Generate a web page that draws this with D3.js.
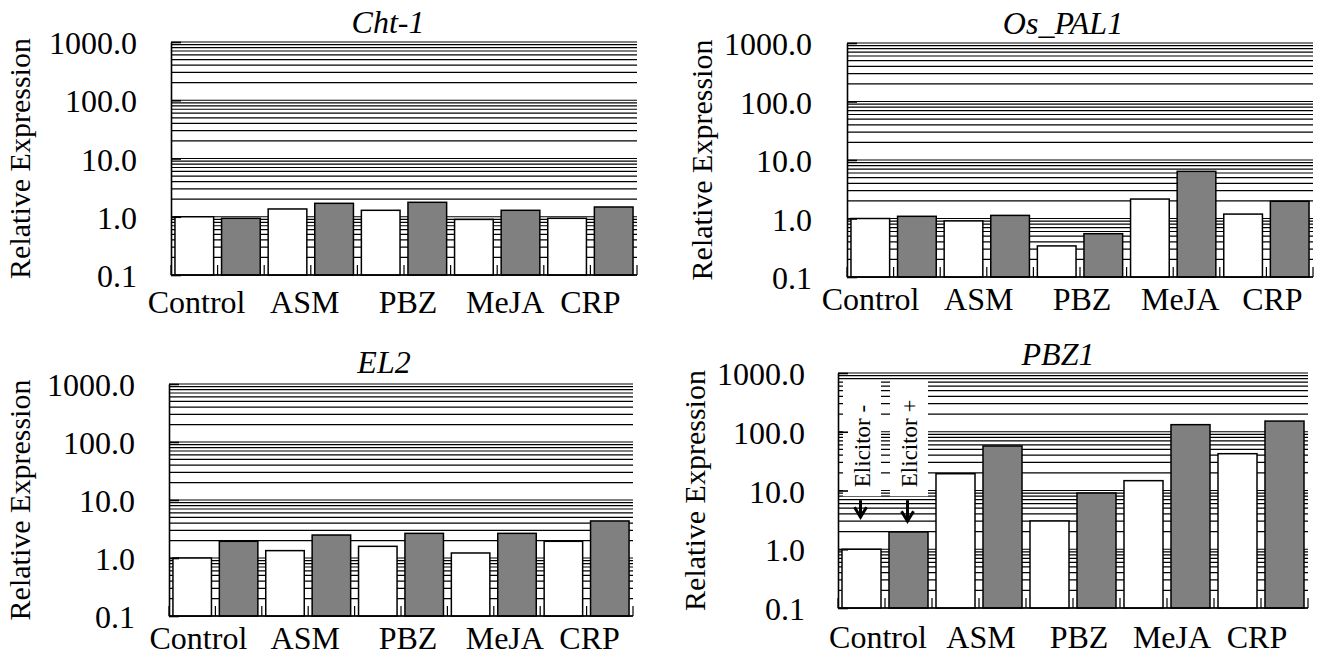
<!DOCTYPE html>
<html><head><meta charset="utf-8">
<script src="https://cdn.jsdelivr.net/npm/d3@7"></script>
<style>
body{margin:0;background:#fff}
svg{display:block}
text{font-family:"Liberation Serif","Times New Roman",serif;fill:#000}
</style>
</head><body>
<svg id="chart" width="1323" height="657"></svg>
<script>
// ---------------- data ----------------
const categories = ["Control", "ASM", "PBZ", "MeJA", "CRP"];
const series = ["Elicitor -", "Elicitor +"];
const yTickValues = [0.1, 1, 10, 100, 1000];
const genes = ["Cht-1", "Os_PAL1", "EL2", "PBZ1"];
const yAxisTitle = "Relative Expression";

const cht1Minus = [1.00, 1.36, 1.29, 0.90, 0.94];
const cht1Plus  = [0.94, 1.70, 1.77, 1.29, 1.47];
const pal1Minus = [1.00, 0.91, 0.34, 2.15, 1.19];
const pal1Plus  = [1.09, 1.13, 0.55, 6.40, 1.97];
const el2Minus  = [1.00, 1.34, 1.59, 1.22, 1.94];
const el2Plus   = [1.94, 2.49, 2.66, 2.66, 4.35];
const pbz1Minus = [1.00, 19.3, 3.03, 14.7, 42.3];
const pbz1Plus  = [1.97, 57.2, 9.06, 132, 152];

const seriesValues = [
  [cht1Minus, cht1Plus],
  [pal1Minus, pal1Plus],
  [el2Minus, el2Plus],
  [pbz1Minus, pbz1Plus]
];

// ---------------- layout ----------------
const layout = [
  {x0:171, x1:637, top:42,  bottom:275, titleX:388,  titleY:33,  tickRight:137, axisTitleX:30,  labelY:313, labelShift:[-21,-6,4,8,0]},
  {x0:847, x1:1313, top:43, bottom:277, titleX:1063, titleY:34,  tickRight:812, axisTitleX:712, labelY:310, labelShift:[-23,-8,2,7,6]},
  {x0:169, x1:633, top:384, bottom:616, titleX:384,  titleY:373, tickRight:135, axisTitleX:30,  labelY:649, labelShift:[-17,-3,7,11,3]},
  {x0:838, x1:1308, top:373, bottom:608, titleX:1058, titleY:365, tickRight:805, axisTitleX:705, labelY:648, labelShift:[-7,2,6,5,-4], annotate:true}
];
const fills = ["#ffffff", "#808080"];
const FS = 32;

const svg = d3.select("#chart");

genes.forEach((gene, gi) => {
  const L = layout[gi];
  const g = svg.append("g");
  const y = d3.scaleLog().domain([0.1, 1000]).range([L.bottom, L.top]);
  const x0 = d3.scaleBand().domain(categories).range([L.x0, L.x1]).padding(0);
  const x1 = d3.scaleBand().domain(series).range([0, x0.bandwidth()]).paddingInner(0.17).paddingOuter(0.085);

  // gridlines
  const grid = y.ticks();
  g.append("g").selectAll("line").data(grid).join("line")
    .attr("x1", L.x0).attr("x2", L.x1)
    .attr("y1", d => y(d)).attr("y2", d => y(d))
    .attr("stroke", "#000").attr("stroke-width", 1.2);

  // annotation white boxes (PBZ1)
  if (L.annotate) {
    series.forEach((s, si) => {
      g.append("rect")
        .attr("x", x0(categories[0]) + x1(s) + 1)
        .attr("width", x1.bandwidth() - 1)
        .attr("y", L.top + 7)
        .attr("height", y(8) - (L.top + 7))
        .attr("fill", "#fff");
    });
  }

  // bars
  categories.forEach((c, ci) => {
    series.forEach((s, si) => {
      const v = seriesValues[gi][si][ci];
      g.append("rect")
        .attr("x", x0(c) + x1(s))
        .attr("width", x1.bandwidth())
        .attr("y", y(v))
        .attr("height", L.bottom - y(v))
        .attr("fill", fills[si])
        .attr("stroke", "#000").attr("stroke-width", 1.5);
    });
  });

  // x ticks at slot boundaries (inward)
  const slotEdges = [];
  categories.forEach(c => series.forEach((s, si) => slotEdges.push(x0(c) + x1.step() * si)));
  slotEdges.push(L.x1);
  g.append("g").selectAll("line").data(slotEdges).join("line")
    .attr("x1", d => d).attr("x2", d => d)
    .attr("y1", L.bottom).attr("y2", L.bottom - 10)
    .attr("stroke", "#000").attr("stroke-width", 1.2);

  // y axis
  const yAxis = d3.axisLeft(y).tickValues(yTickValues).tickFormat(d3.format(".1f"))
    .tickSizeInner(-10).tickSizeOuter(0).tickPadding(L.x0 - L.tickRight);
  const ya = g.append("g").attr("transform", `translate(${L.x0},0)`).call(yAxis);
  ya.select(".domain").attr("stroke", "#000").attr("stroke-width", 1.6);
  ya.selectAll(".tick line").attr("stroke", "#000").attr("stroke-width", 1.6);
  ya.selectAll(".tick text").attr("font-size", FS).attr("dy", "0.36em")
    .attr("font-family", "Liberation Serif, serif").attr("fill", "#000");

  // x axis baseline
  g.append("line").attr("x1", L.x0).attr("x2", L.x1).attr("y1", L.bottom).attr("y2", L.bottom)
    .attr("stroke", "#000").attr("stroke-width", 1.6);

  // category labels
  g.append("g").selectAll("text").data(categories).join("text")
    .attr("x", (d, i) => x0(d) + x0.bandwidth() / 2 + L.labelShift[i])
    .attr("y", L.labelY)
    .attr("text-anchor", "middle").attr("font-size", FS)
    .text(d => d);

  // y axis title
  g.append("text")
    .attr("transform", `translate(${L.axisTitleX},${(L.top + L.bottom) / 2}) rotate(-90)`)
    .attr("text-anchor", "middle").attr("font-size", FS - 2)
    .text(yAxisTitle);

  // panel title
  g.append("text").attr("x", L.titleX).attr("y", L.titleY)
    .attr("text-anchor", "middle").attr("font-size", FS).attr("font-style", "italic")
    .text(gene);

  // annotation text and arrows
  if (L.annotate) {
    series.forEach((s, si) => {
      const cx = x0(categories[0]) + x1(s) + x1.bandwidth() / 2;
      g.append("text")
        .attr("transform", `translate(${cx},${y(8) - 9}) rotate(-90)`)
        .attr("dy", "0.35em").attr("font-size", 23)
        .text(s);
      const ay0 = y(8) + 4, ay1 = y(8) + 21 + si * 4;
      g.append("line").attr("x1", cx - 1).attr("x2", cx - 1).attr("y1", ay0).attr("y2", ay1)
        .attr("stroke", "#000").attr("stroke-width", 3);
      g.append("path")
        .attr("d", `M${cx - 7},${ay1 - 10} L${cx - 1},${ay1} L${cx + 5},${ay1 - 10}`)
        .attr("fill", "none").attr("stroke", "#000").attr("stroke-width", 3);
    });
  }
});
</script>
</body></html>
